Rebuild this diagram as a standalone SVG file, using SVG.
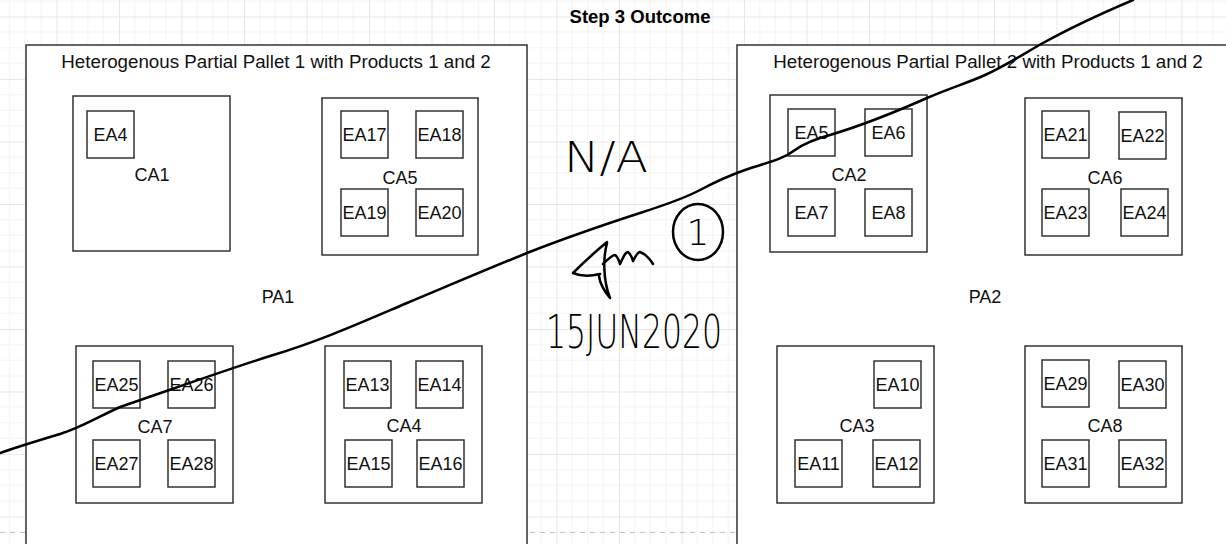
<svg xmlns="http://www.w3.org/2000/svg" width="1226" height="544" viewBox="0 0 1226 544">
<style>
.bx{fill:#fff;stroke:#333;stroke-width:1.5}
.t{font-family:"Liberation Sans",Arial,sans-serif;font-size:18px;fill:#111;text-anchor:middle}
.tt{font-family:"Liberation Sans",Arial,sans-serif;font-size:18.75px;fill:#111;text-anchor:middle}
.ttl{font-family:"Liberation Sans",Arial,sans-serif;font-size:18.5px;font-weight:bold;fill:#000;text-anchor:middle}
.ink{fill:none;stroke:#000;stroke-width:2.5;stroke-linecap:round;stroke-linejoin:round}
.hw{font-family:"DejaVu Sans",sans-serif;font-weight:200;fill:#000}
</style>
<defs>
<pattern id="grid" patternUnits="userSpaceOnUse" x="56.5" y="16.5" width="62.5" height="62.5">
<path d="M15.625 0V62.5M31.25 0V62.5M46.875 0V62.5M0 15.625H62.5M0 31.25H62.5M0 46.875H62.5" stroke="#f4f4f4" stroke-width="1" fill="none"/>
<path d="M0.5 0V62.5M0 0.5H62.5" stroke="#e6e6e6" stroke-width="1" fill="none"/>
</pattern>
</defs>
<rect width="1226" height="544" fill="#fff"/>
<rect width="1226" height="544" fill="url(#grid)"/>
<line x1="0" y1="532.5" x2="1226" y2="532.5" stroke="#c4c4c4" stroke-width="1" stroke-dasharray="5,5"/>
<text class="ttl" x="640" y="23">Step 3 Outcome</text>

<g id="PA1">
<rect class="bx" x="26" y="45" width="501" height="502"/>
<text class="tt" x="276" y="68">Heterogenous Partial Pallet 1 with Products 1 and 2</text>
<text class="t" x="278" y="303">PA1</text>
</g>
<g id="PA2">
<rect class="bx" x="737" y="45" width="501" height="502"/>
<text class="tt" x="988" y="68">Heterogenous Partial Pallet 2 with Products 1 and 2</text>
<text class="t" x="985" y="303">PA2</text>
</g>

<g id="CA1"><rect class="bx" x="73" y="96" width="157" height="155"/><text class="t" x="152" y="181">CA1</text></g>
<g id="EA4"><rect class="bx" x="87" y="111" width="47" height="47"/><text class="t" x="110.5" y="141">EA4</text></g>

<g id="CA5"><rect class="bx" x="322" y="98" width="156" height="157"/><text class="t" x="400" y="183.5">CA5</text></g>
<g id="EA17"><rect class="bx" x="341" y="111" width="47" height="47"/><text class="t" x="364.5" y="141">EA17</text></g>
<g id="EA18"><rect class="bx" x="416" y="111" width="47" height="47"/><text class="t" x="439.5" y="141">EA18</text></g>
<g id="EA19"><rect class="bx" x="341" y="189" width="47" height="47"/><text class="t" x="364.5" y="219">EA19</text></g>
<g id="EA20"><rect class="bx" x="416" y="189" width="47" height="47"/><text class="t" x="439.5" y="219">EA20</text></g>

<g id="CA7"><rect class="bx" x="76" y="346" width="157" height="157"/><text class="t" x="155" y="432.5">CA7</text></g>
<g id="EA25"><rect class="bx" x="93" y="361" width="47" height="47"/><text class="t" x="116.5" y="391">EA25</text></g>
<g id="EA26"><rect class="bx" x="168" y="361" width="47" height="47"/><text class="t" x="191.5" y="391">EA26</text></g>
<g id="EA27"><rect class="bx" x="93" y="440" width="47" height="47"/><text class="t" x="116.5" y="470">EA27</text></g>
<g id="EA28"><rect class="bx" x="168" y="440" width="47" height="47"/><text class="t" x="191.5" y="470">EA28</text></g>

<g id="CA4"><rect class="bx" x="325" y="346" width="157" height="157"/><text class="t" x="404" y="432">CA4</text></g>
<g id="EA13"><rect class="bx" x="344" y="361" width="47" height="47"/><text class="t" x="367.5" y="391">EA13</text></g>
<g id="EA14"><rect class="bx" x="416" y="361" width="47" height="47"/><text class="t" x="439.5" y="391">EA14</text></g>
<g id="EA15"><rect class="bx" x="345" y="440" width="47" height="47"/><text class="t" x="368.5" y="470">EA15</text></g>
<g id="EA16"><rect class="bx" x="417" y="440" width="47" height="47"/><text class="t" x="440.5" y="470">EA16</text></g>

<g id="CA2"><rect class="bx" x="770" y="95" width="157" height="157"/><text class="t" x="849" y="180.5">CA2</text></g>
<g id="EA5"><rect class="bx" x="788" y="109" width="47" height="47"/><text class="t" x="811.5" y="139">EA5</text></g>
<g id="EA6"><rect class="bx" x="865" y="109" width="47" height="47"/><text class="t" x="888.5" y="139">EA6</text></g>
<g id="EA7"><rect class="bx" x="788" y="189" width="47" height="47"/><text class="t" x="811.5" y="219">EA7</text></g>
<g id="EA8"><rect class="bx" x="865" y="189" width="47" height="47"/><text class="t" x="888.5" y="219">EA8</text></g>

<g id="CA6"><rect class="bx" x="1025" y="98" width="157" height="157"/><text class="t" x="1105" y="183.5">CA6</text></g>
<g id="EA21"><rect class="bx" x="1042" y="111" width="47" height="47"/><text class="t" x="1065.5" y="141">EA21</text></g>
<g id="EA22"><rect class="bx" x="1119" y="112" width="47" height="47"/><text class="t" x="1142.5" y="142">EA22</text></g>
<g id="EA23"><rect class="bx" x="1042" y="189" width="47" height="47"/><text class="t" x="1065.5" y="219">EA23</text></g>
<g id="EA24"><rect class="bx" x="1121" y="189" width="47" height="47"/><text class="t" x="1144.5" y="219">EA24</text></g>

<g id="CA3"><rect class="bx" x="777" y="346" width="157" height="157"/><text class="t" x="857" y="432">CA3</text></g>
<g id="EA10"><rect class="bx" x="874" y="361" width="47" height="47"/><text class="t" x="897.5" y="391">EA10</text></g>
<g id="EA11"><rect class="bx" x="795" y="440" width="47" height="47"/><text class="t" x="818.5" y="470">EA11</text></g>
<g id="EA12"><rect class="bx" x="873" y="440" width="47" height="47"/><text class="t" x="896.5" y="470">EA12</text></g>

<g id="CA8"><rect class="bx" x="1025" y="346" width="157" height="157"/><text class="t" x="1105" y="432">CA8</text></g>
<g id="EA29"><rect class="bx" x="1042" y="360" width="47" height="47"/><text class="t" x="1065.5" y="390">EA29</text></g>
<g id="EA30"><rect class="bx" x="1119" y="361" width="47" height="47"/><text class="t" x="1142.5" y="391">EA30</text></g>
<g id="EA31"><rect class="bx" x="1042" y="440" width="47" height="47"/><text class="t" x="1065.5" y="470">EA31</text></g>
<g id="EA32"><rect class="bx" x="1119" y="440" width="47" height="47"/><text class="t" x="1142.5" y="470">EA32</text></g>

<g id="connectors"></g>

<g id="annotation">
<path class="ink" d="M0,453 C20,446 40,440 60,434 C80,428 100,416 120,407 C170,390 220,372 270,356 C320,341 360,323 407,303 C450,285 490,268 527,253 C560,240 600,226 640,213 C665,205 685,198 700,190 C715,182 728,176 745,170 C765,163 782,160 795,150 C805,143 815,139 830,135 C860,126 900,110 927,98 C950,88 970,82 985,75 C1005,66 1025,53 1043,43 C1070,28 1100,14 1133,0"/>
<text class="hw" x="564" y="172" font-size="42" textLength="84" lengthAdjust="spacingAndGlyphs">N/A</text>
<path class="ink" stroke-width="2.2" d="M607,242 C595,252 582,264 573,273 C582,277 592,276 600,274 M607,243 C603,258 603,280 610,298 C605,292 600,284 599,276 M603,264 C608,259 612,255 615,255 C618,257 619,261 620,264 C623,258 625,252 628,252 C631,254 632,258 633,261 C636,255 638,252 640,252 C645,254 650,259 653,264"/>
<ellipse class="ink" stroke-width="2.2" cx="698" cy="232" rx="25" ry="28"/>
<text class="hw" x="698" y="245" font-size="36" text-anchor="middle">1</text>
<text class="hw" x="546" y="348" font-size="46" textLength="176" lengthAdjust="spacingAndGlyphs">15JUN2020</text>
</g>
</svg>
